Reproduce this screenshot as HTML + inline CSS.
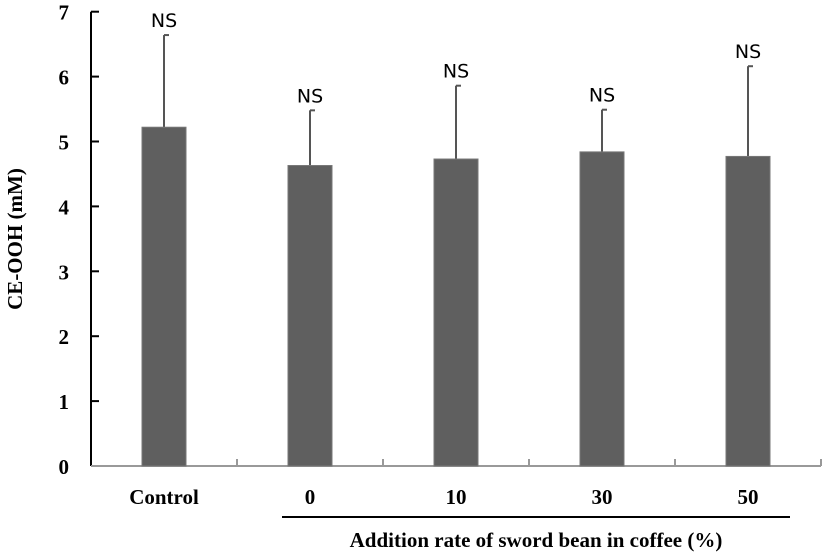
<!DOCTYPE html>
<html><head><meta charset="utf-8"><style>
body{margin:0;background:#fff}
svg{display:block}
.t{font-family:"Liberation Serif",serif;font-weight:bold;font-size:21px;fill:#000}
.ns{font-family:"DejaVu Sans","Liberation Sans",sans-serif;font-size:19px;fill:#000}
</style></head><body>
<svg id="c" width="827" height="559" viewBox="0 0 827 559"></svg>
<script>
const categories=["Control","0","10","30","50"];
const means=[5.22,4.63,4.73,4.84,4.77];
const errors=[1.42,0.85,1.13,0.65,1.39];
const sigLabels=["NS","NS","NS","NS","NS"];
const yTicks=[0,1,2,3,4,5,6,7];
const NS="http://www.w3.org/2000/svg";
const svg=document.getElementById('c');
const x0=91,band=146,y0=466,unit=64.9,bw=44;
const xc=i=>x0+band*(i+0.5);
const y=v=>y0-v*unit;
function mk(t,a,p){const e=document.createElementNS(NS,t);for(const k in a)e.setAttribute(k,a[k]);(p||svg).appendChild(e);return e;}
const ax=mk('line',{x1:x0,y1:y(7),x2:x0,y2:y0,stroke:'#000','stroke-width':2});


yTicks.forEach(v=>{
 const tk=mk('line',{x1:x0,y1:y(v),x2:x0+8,y2:y(v),stroke:'#000','stroke-width':2});
 
 
 const tl=mk('text',{x:x0-22,y:y(v)+8,'text-anchor':'end',class:'t'});
 tl.textContent=v;
 
 
});
const xa=mk('line',{x1:x0,y1:y0,x2:x0+band*5,y2:y0,stroke:'#999','stroke-width':2});


for(let i=1;i<=5;i++){
 const tk=mk('line',{x1:x0+band*i,y1:y0,x2:x0+band*i,y2:y0-7,stroke:'#999','stroke-width':2});
 
 
}
categories.forEach((c,i)=>{
 const cx=xc(i);
 const eb=mk('line',{x1:cx,y1:y(means[i]),x2:cx,y2:y(means[i]+errors[i]),stroke:'#555','stroke-width':2});
 
 
 const cap=mk('line',{x1:cx,y1:y(means[i]+errors[i]),x2:cx+5,y2:y(means[i]+errors[i]),stroke:'#555','stroke-width':2});
 
 
 const b=mk('rect',{x:cx-bw/2,y:y(means[i]),width:bw,height:means[i]*unit,fill:'#5f5f5f',stroke:'#777','stroke-width':1});
 
 
 const n=mk('text',{x:cx,y:y(means[i]+errors[i])-8,'text-anchor':'middle',class:'ns'});
 n.textContent=sigLabels[i];
 
 
 const l=mk('text',{x:cx,y:504,'text-anchor':'middle',class:'t'});
 l.textContent=c;
 
 
});
const ul=mk('line',{x1:282,y1:517,x2:790,y2:517,stroke:'#000','stroke-width':2});


const xt=mk('text',{x:536,y:547,'text-anchor':'middle',class:'t'});
xt.textContent="Addition rate of sword bean in coffee (%)";


const yt=mk('text',{x:0,y:0,'text-anchor':'middle',class:'t',transform:'translate(22,239) rotate(-90)'});
yt.textContent="CE-OOH (mM)";


</script>
</body></html>
